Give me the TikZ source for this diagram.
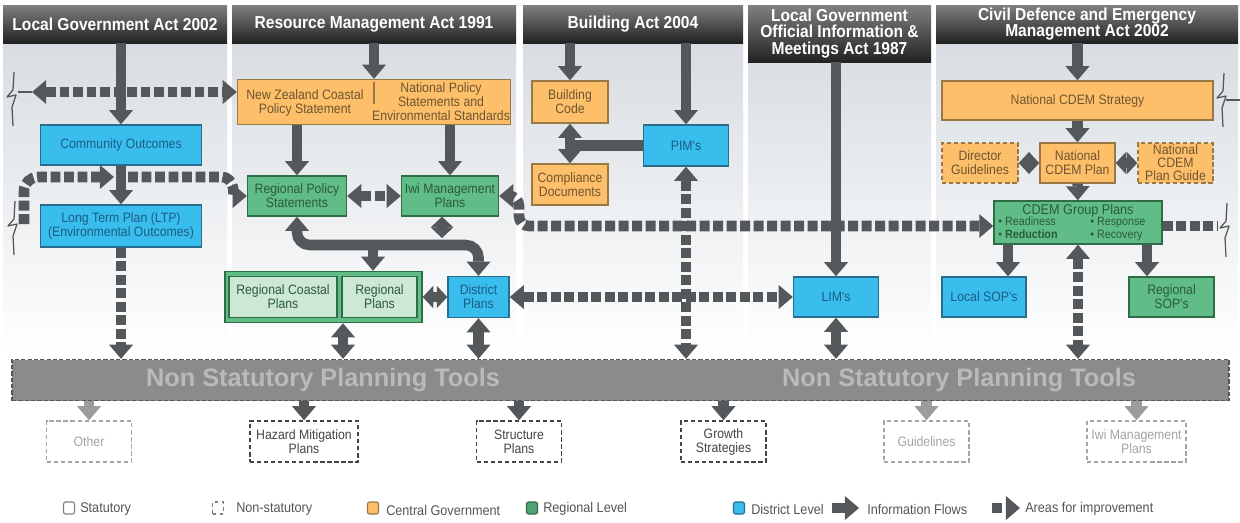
\documentclass[tikz,border=0pt]{standalone}
\usepackage{fontspec}
\setmainfont{Liberation Sans}
\newfontfamily\narrowfont{Liberation Sans}[FakeStretch=0.9]
\usetikzlibrary{arrows.meta,positioning}

\definecolor{arrowgray}{HTML}{55585B}
\definecolor{lightarrow}{HTML}{9C9C9C}
\definecolor{orangefill}{HTML}{FDBF69}
\definecolor{orangeline}{HTML}{9A7846}
\definecolor{orangetext}{HTML}{6E5632}
\definecolor{bluefill}{HTML}{38BDEC}
\definecolor{blueline}{HTML}{2A6C8C}
\definecolor{bluetext}{HTML}{1D5C88}
\definecolor{greenfill}{HTML}{60BD87}
\definecolor{greenline}{HTML}{2F6D49}
\definecolor{greentext}{HTML}{2C5A3C}
\definecolor{palegreen}{HTML}{CDE9D5}
\definecolor{colbg}{HTML}{D8DDE2}
\definecolor{headtop}{HTML}{808080}
\definecolor{headbot}{HTML}{222222}
\definecolor{barfill}{HTML}{8B8B8B}
\definecolor{bartext}{HTML}{BABABA}
\definecolor{tooldark}{HTML}{444444}
\definecolor{toollight}{HTML}{A4A4A4}
\definecolor{legendgray}{HTML}{555555}

\newcommand\boxfont{\narrowfont\fontsize{9.7}{10}\selectfont}

\tikzset{
  wh/.style 2 args={minimum width=#1*0.025cm, minimum height=#2*0.025cm},
  box/.style={draw, line width=1pt, align=center, inner sep=1pt, font=\boxfont},
  central/.style={box, fill=orangefill, draw=orangeline, text=orangetext},
  centralns/.style={central, dash pattern=on 3pt off 2pt},
  regional/.style={box, fill=greenfill, draw=greenline, text=greentext},
  district/.style={box, fill=bluefill, draw=blueline, text=bluetext},
  tool/.style={box, dash pattern=on 3pt off 2pt, fill=white, draw=#1, text=#1, wh={85}{41}},
  headbar/.style={top color=headtop, bottom color=headbot, text=white, align=center, inner sep=0pt,
    font=\narrowfont\bfseries\fontsize{12.3}{12}\selectfont},
  bartitle/.style={text=bartext, font=\bfseries\fontsize{18}{20}\selectfont},
  bullets/.style={text=greentext, align=left, inner sep=0pt, font=\narrowfont\fontsize{8.5}{9}\selectfont},
  legendlabel/.style={text=legendgray, anchor=west, inner sep=0pt, font=\narrowfont\fontsize{10}{11}\selectfont},
  legendkey/.style={line width=0.8pt, inner sep=0pt, rounded corners=1.5pt, wh={11}{12}},
  flow/.style={draw=arrowgray, line width=7.5pt, ->},
  flowboth/.style={draw=arrowgray, line width=7.5pt, <->},
  shorttips/.style={>={Triangle[length=7.5pt,width=16pt,line width=0pt]}},
  improve/.style={flow, dash pattern=on 7pt off 2.6pt},
  improveboth/.style={flowboth, dash pattern=on 7pt off 2.6pt},
  improveline/.style={draw=arrowgray, line width=7.5pt, dash pattern=on 7pt off 2.6pt},
  breakmark/.pic={\draw[arrowgray, line width=0.9pt, line join=round]
    (2,-27) -- (1,-9) -- (-5,-2) -- (4,-4) -- (0,8) -- (1,27);}
}

\begin{document}
\begin{tikzpicture}[x=0.025cm, y=-0.025cm, font=\narrowfont,
  >={Triangle[length=10pt,width=17pt,line width=0pt]}]
\useasboundingbox (0,0) rectangle (1240,522);
\fill[white] (0,0) rectangle (1240,522);

% columns
\foreach \l/\r in {3/227,232/516,523/743,748/931,936/1238}
  \shade[top color=colbg, bottom color=white] (\l,43) rectangle (\r,352);

% acts
\node[headbar, wh={224}{38}] (hlga) at (115,24) {Local Government Act 2002};
\node[headbar, wh={284}{38}] (hrma) at (374,24) {Resource Management Act 1991};
\node[headbar, wh={220}{38}] (hba) at (633,24) {Building Act 2004};
\node[headbar, wh={183}{57}] (hoia) at (839.5,33.5) {Local Government\\Official Information \&\\Meetings Act 1987};
\node[headbar, wh={302}{38}] (hcdem) at (1087,24) {Civil Defence and Emergency\\Management Act 2002};

% local government
\node[district, wh={161}{40}] (co) at (121,145) {Community Outcomes};
\node[district, wh={161}{42}] (ltp) at (121,226) {Long Term Plan (LTP)\\(Environmental Outcomes)};

% resource management
\node[central, wh={273}{45}] (rmabox) at (374,102) {};
\node[text=orangetext, align=center, font=\boxfont] (nzcps) at (305,103) {New Zealand Coastal\\Policy Statement};
\node[text=orangetext, align=center, font=\boxfont] (nps) at (441,102) {National Policy\\Statements and\\Environmental Standards};
\draw[orangeline, line width=0.8pt] ([yshift=-2pt]rmabox.north) -- ++(0,22);
\node[regional, wh={99}{40}] (rps) at (297,196) {Regional Policy\\Statements};
\node[regional, wh={97}{40}] (iwi) at (450,196) {Iwi Management\\Plans};
\node[regional, wh={197}{51}] (rgroup) at (323.5,297) {};
\node[regional, fill=palegreen, wh={108}{41}] (rcp) at (283,297) {Regional Coastal\\Plans};
\node[regional, fill=palegreen, wh={75}{41}] (rp) at (379.5,297) {Regional\\Plans};
\node[district, wh={61}{41}] (dp) at (478.5,297) {District\\Plans};

% building
\node[central, wh={76}{42}] (bc) at (570,102) {Building\\Code};
\node[central, wh={76}{41}] (cd) at (570,184.5) {Compliance\\Documents};
\node[district, wh={85}{41}] (pim) at (686,145.5) {PIM's};

% official information
\node[district, wh={85}{40}] (lim) at (836,297) {LIM's};

% civil defence
\node[central, wh={271}{39}] (ncs) at (1077.5,100.5) {National CDEM Strategy};
\node[centralns, wh={76}{40}] (dg) at (980,163) {Director\\Guidelines};
\node[central, wh={75}{40}] (ncp) at (1077.5,163) {National\\CDEM Plan};
\node[centralns, wh={75}{40}, font=\narrowfont\fontsize{9.7}{9.3}\selectfont] (npg) at (1175.5,163) {National\\CDEM\\Plan Guide};
\node[regional, wh={168}{43}] (cgp) at (1078,222.5) {};
\node[text=greentext, inner sep=0pt, font=\narrowfont\fontsize{10}{11}\selectfont] (cgptitle) at (1078,211) {CDEM Group Plans};
\node[bullets, anchor=north west] (cgpleft) at (998,217) {\textbullet\ Readiness\\\textbullet\ \textbf{Reduction}};
\node[bullets, anchor=north west] (cgpright) at (1090,217) {\textbullet\ Response\\\textbullet\ Recovery};
\node[district, wh={84}{40}] (lsop) at (984,297) {Local SOP's};
\node[regional, wh={85}{40}] (rsop) at (1171.5,297) {Regional\\SOP's};

% non statutory tools
\node[draw=arrowgray, dash pattern=on 3pt off 1.5pt, line width=1pt, fill=barfill, wh={1217}{41}] (nspt) at (620.5,380) {};
\node[bartitle] (nstl) at (323,380) {Non Statutory Planning Tools};
\node[bartitle] (nstr) at (959,380) {Non Statutory Planning Tools};
\node[tool=toollight] (other) at (89,441.5) {Other};
\node[tool=tooldark, wh={108}{41}] (hmp) at (304,441.5) {Hazard Mitigation\\Plans};
\node[tool=tooldark] (sp) at (519,441.5) {Structure\\Plans};
\node[tool=tooldark] (gs) at (723.5,441.5) {Growth\\Strategies};
\node[tool=toollight] (gl) at (926.5,441.5) {Guidelines};
\node[tool=toollight, wh={99}{41}] (imp) at (1136.5,441.5) {Iwi Management\\Plans};

% helper points
\coordinate (brk1) at (32,92);
\coordinate (brk2) at (24,224);
\coordinate (ltpjoin) at (114,177);
\coordinate (rpsfeed) at (128,177);
\coordinate (rpsturn) at (222,177);
\coordinate (iwibend) at (519,226);
\coordinate (brk3) at (1217,226);
\coordinate (brk4) at (1240,100);
\coordinate (rjoin) at (0,245);
\coordinate (rbranch) at (373,245);
\coordinate (iwistub) at (442,238);
\coordinate (rgx) at (343,0);
\coordinate (lsopx) at (1008,0);
\coordinate (rsopx) at (1147,0);

% breaks
\pic at (12,99) {breakmark};
\pic at (13,228) {breakmark};
\pic at (1225,230) {breakmark};
\pic at (1222,100) {breakmark};
\draw[arrowgray, line width=1pt] (brk1) -- +(-14,0);
\draw[arrowgray, line width=1pt] (brk4) -- +(-14,0);

% areas for improvement
\draw[improveboth] (brk1) -- (brk1 -| rmabox.west);
\draw[improve, rounded corners=10pt] (brk2) |- (ltpjoin);
\draw[improve] (rpsfeed) -- (rpsturn) to[out=0,in=180] (rps.west);
\draw[improveboth] (rps) -- (iwi);
\draw[improveboth, rounded corners=7pt] (iwi.east) -| (iwibend) -- (cgp.west |- iwibend);
\draw[improveline] (cgp.east |- brk3) -- (brk3);
\draw[improveboth] (dp) -- (lim);
\draw[improve] (ltp) -- (ltp.south |- nspt.north);
\draw[improveboth] (pim) -- (pim.south |- nspt.north);
\draw[improveboth] (cgp) -- (cgp.south |- nspt.north);

% information flows
\draw[flow] (hlga.south -| co.north) -- (co.north);
\draw[flow] (co) -- (ltp);
\draw[flow] (hrma.south -| rmabox.north) -- (rmabox.north);
\draw[flow] (rmabox.south -| rps.north) -- (rps.north);
\draw[flow] (rmabox.south -| iwi.north) -- (iwi.north);
\draw[flowboth, shorttips] (iwi.south -| iwistub) -- (iwistub);
\draw[flowboth, rounded corners=9pt] (rps.south) |- (rjoin -| dp.north) -- (dp.north);
\draw[flow] (rbranch) -- (rbranch |- rgroup.north);
\draw[flowboth, shorttips] (rgroup.east) -- (dp.west);
\draw[flowboth] (rgroup.south -| rgx) -- (nspt.north -| rgx);
\draw[flowboth] (dp) -- (dp.south |- nspt.north);
\draw[flow] (hba.south -| bc.north) -- (bc.north);
\draw[flow] (hba.south -| pim.north) -- (pim.north);
\draw[flowboth] (bc) -- (cd);
\draw[draw=arrowgray, line width=7.5pt] (pim.west) -- (pim.west -| bc.south);
\draw[flow] (hoia.south -| lim.north) -- (lim.north);
\draw[flowboth] (lim) -- (lim.south |- nspt.north);
\draw[flow] (hcdem.south -| ncs.north) -- (ncs.north);
\draw[flow] (ncs) -- (ncp);
\draw[flowboth, shorttips] (dg) -- (ncp);
\draw[flowboth, shorttips] (ncp) -- (npg);
\draw[flow] (ncp) -- (cgp);
\draw[flow] (cgp.south -| lsopx) -- (lsop.north -| lsopx);
\draw[flow] (cgp.south -| rsopx) -- (rsop.north -| rsopx);
\foreach \n/\c in {other/lightarrow, hmp/arrowgray, sp/arrowgray, gs/arrowgray, gl/lightarrow, imp/lightarrow}
  \draw[flow, draw=\c] (nspt.south -| \n.north) -- (\n.north);

% legend
\node[legendkey, draw=gray, fill=white] (kstat) at (69,508) {};
\node[legendlabel] (lstat) at (80,509) {Statutory};
\node[legendkey, draw=gray, fill=white, dash pattern=on 2.5pt off 2.5pt, rounded corners=0pt] (knon) at (218,508) {};
\node[legendlabel] (lnon) at (236,509) {Non-statutory};
\node[legendkey, draw=orangeline, fill=orangefill] (kcen) at (373,508) {};
\node[legendlabel] (lcen) at (386,510) {Central Government};
\node[legendkey, draw=greenline, fill=greenfill!85!black] (kreg) at (532,508) {};
\node[legendlabel] (lreg) at (543,509) {Regional Level};
\node[legendkey, draw=blueline, fill=bluefill] (kdis) at (739,508) {};
\node[legendlabel] (ldis) at (751,509) {District Level};
\coordinate (kflowa) at (832,508);
\coordinate (kflowb) at (859,508);
\draw[flow] (kflowa) -- (kflowb);
\node[legendlabel] (lflow) at (867,509) {Information Flows};
\coordinate (kimpa) at (992,508);
\coordinate (kimpb) at (1020,508);
\draw[improve] (kimpa) -- (kimpb);
\node[legendlabel] (limp) at (1025,509) {Areas for improvement};
\end{tikzpicture}
\end{document}
